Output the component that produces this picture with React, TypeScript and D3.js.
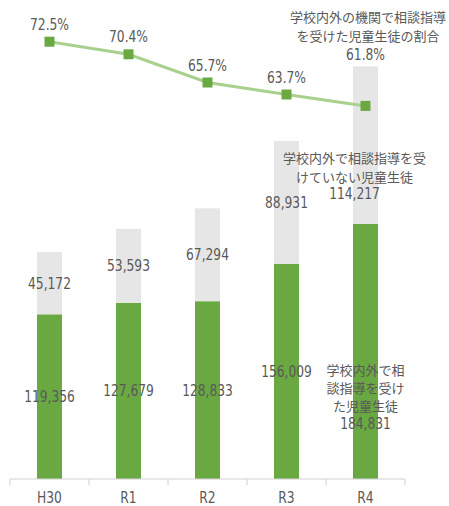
import React from 'react';
import * as d3 from 'd3';

const years = ['H30', 'R1', 'R2', 'R3', 'R4'];
const guided = [119356, 127679, 128833, 156009, 184831];
const notGuided = [45172, 53593, 67294, 88931, 114217];
const ratio = [72.5, 70.4, 65.7, 63.7, 61.8];

const ratioTitle = ['学校内外の機関で相談指導', 'を受けた児童生徒の割合'];
const notGuidedName = ['学校内外で相談指導を受', 'けていない児童生徒'];
const guidedName = ['学校内外で相', '談指導を受け', 'た児童生徒'];

const W = 449;
const H = 506;
const numFont = '"DejaVu Sans Condensed", "DejaVu Sans", sans-serif';
const jpFont = '"Noto Sans CJK JP", sans-serif';
const textColor = '#595959';
const green = '#6aa842';
const gray = '#e7e6e6';

const fmt = d3.format(',');

// condensed digits, squeezed a bit further to look like the source's narrow face
const Num: React.FC<{ x: number; y: number; children: React.ReactNode }> = ({ x, y, children }) => (
    <text transform={`translate(${x},${y}) scale(0.88,1)`} textAnchor="middle" fontFamily={numFont}
        fontStretch="condensed" fontSize={15.5} fill={textColor}>{children}</text>
);

const App: React.FC = () => {
    const x = d3.scaleBand<string>().domain(years).range([10, 405]).padding(0);
    const y = d3.scaleLinear().domain([0, 300000]).range([479, 65]);
    const yr = d3.scaleLinear().domain([60, 75]).range([116.7, 26.7]);
    const barW = 25;
    const cx = (d: string) => (x(d) as number) + x.bandwidth() / 2;

    const line = d3.line<number>()
        .x((_, i) => cx(years[i]))
        .y(d => yr(d));

    const last = years.length - 1;

    return (
        <div style={{ position: 'absolute', left: 0, top: 0 }}>
            <svg width={W} height={H} style={{ background: '#fff' }}>
                {years.map((d, i) => {
                    const g0 = y(0), g1 = y(guided[i]);
                    const t1 = y(guided[i] + notGuided[i]);
                    return (
                        <g key={d}>
                            <rect x={cx(d) - barW / 2} y={g1} width={barW} height={g0 - g1} fill={green} />
                            <rect x={cx(d) - barW / 2} y={t1} width={barW} height={g1 - t1} fill={gray} />
                        </g>
                    );
                })}

                {/* axis */}
                <line x1={10} x2={405} y1={479} y2={479} stroke="#d0d0d0" strokeWidth={1} />
                {[...years.map(d => x(d) as number), 405].map((t, i) => (
                    <line key={i} x1={t} x2={t} y1={479} y2={485} stroke="#d0d0d0" strokeWidth={1} />
                ))}
                {years.map(d => (
                    <Num key={d} x={cx(d)} y={503}>{d}</Num>
                ))}

                {/* segment labels */}
                {years.map((d, i) => {
                    const gMid = (y(0) + y(guided[i])) / 2;
                    const nMid = (y(guided[i]) + y(guided[i] + notGuided[i])) / 2;
                    if (i === last) {
                        return (
                            <g key={d} fill={textColor} textAnchor="middle">
                                {notGuidedName.map((s, k) => (
                                    <text key={k} x={cx(d) - 11} y={nMid + 18 + k * 18.5} fontFamily={jpFont} fontSize={13}>{s}</text>
                                ))}
                                <Num x={cx(d) - 11} y={nMid + 54}>{fmt(notGuided[i])}</Num>
                                {guidedName.map((s, k) => (
                                    <text key={'g' + k} x={cx(d)} y={gMid + 24 + k * 18} fontFamily={jpFont} fontSize={13}>{s}</text>
                                ))}
                                <Num x={cx(d)} y={gMid + 78}>{fmt(guided[i])}</Num>
                            </g>
                        );
                    }
                    return (
                        <g key={d}>
                            <Num x={cx(d)} y={nMid + 5.5}>{fmt(notGuided[i])}</Num>
                            <Num x={cx(d)} y={gMid + 5.5}>{fmt(guided[i])}</Num>
                        </g>
                    );
                })}

                {/* ratio line */}
                <path d={line(ratio) || ''} fill="none" stroke="#a9d18e" strokeWidth={3} />
                {ratio.map((v, i) => (
                    <rect key={i} x={cx(years[i]) - 5} y={yr(v) - 5} width={10} height={10} fill={green} />
                ))}
                {ratio.map((v, i) => {
                    const top = y(guided[i] + notGuided[i]);
                    const base = Math.min(yr(v) - 12, top - 6);
                    return (
                        <Num key={i} x={cx(years[i])} y={base}>{v.toFixed(1)}%</Num>
                    );
                })}
                {ratioTitle.map((s, k) => (
                    <text key={k} x={368} y={22 + k * 18.5} textAnchor="middle" fontFamily={jpFont}
                        fontSize={13} fill={textColor}>{s}</text>
                ))}
            </svg>
        </div>
    );
};

export default App;
